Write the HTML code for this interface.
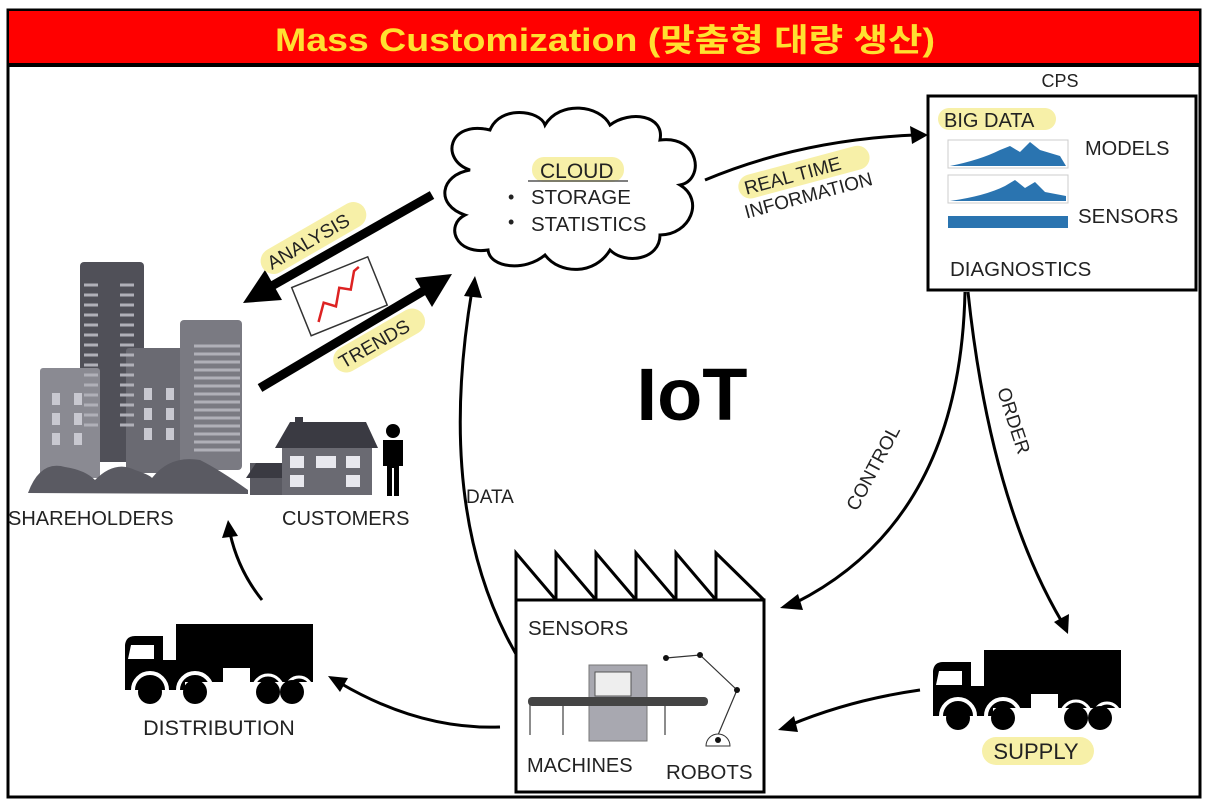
<!DOCTYPE html>
<html><head><meta charset="utf-8"><style>
html,body{margin:0;padding:0;background:#fff;}
svg{display:block;font-family:"Liberation Sans","Noto Sans CJK KR",sans-serif;}
</style></head><body>
<svg width="1207" height="802" viewBox="0 0 1207 802" xmlns="http://www.w3.org/2000/svg">
<defs>
<g id="truck">
<rect x="176" y="624" width="137" height="44" fill="#000"/>
<path d="M125,645 Q126,636 135,636 L163,636 L163,670 L176,670 L176,678 L125,690 Z" fill="#000"/>
<rect x="125" y="660" width="60" height="30" fill="#000"/>
<rect x="163" y="668" width="60" height="14" fill="#000"/>
<path d="M131,645 L154,645 L154,659 L128,659 Z" fill="#fff"/>
<path d="M133,690 a17,17 0 0 1 34,0" fill="none" stroke="#fff" stroke-width="4"/>
<path d="M178,690 a17,17 0 0 1 34,0" fill="none" stroke="#fff" stroke-width="4"/>
<path d="M250,682 L313,682 L313,668 L250,668 Z" fill="#000"/>
<path d="M253,690 a15,15 0 0 1 30,0 M286,690 a13,13 0 0 1 26,0" fill="none" stroke="#fff" stroke-width="3"/>
<circle cx="150" cy="692" r="12" fill="#000"/>
<circle cx="195" cy="692" r="12" fill="#000"/>
<circle cx="268" cy="692" r="12" fill="#000"/>
<circle cx="292" cy="692" r="12" fill="#000"/>
</g>
</defs>

<!-- frame -->
<rect x="8" y="10" width="1192" height="787" fill="#fff" stroke="#000" stroke-width="3"/>
<rect x="9" y="11" width="1190" height="54" fill="#f00"/>
<line x1="8" y1="65" x2="1200" y2="65" stroke="#000" stroke-width="4"/>
<text x="275" y="51" font-size="32" font-weight="bold" fill="#ffe030" textLength="660" lengthAdjust="spacingAndGlyphs">Mass Customization (맞춤형 대량 생산)</text>

<!-- CPS -->
<text x="1060" y="87" text-anchor="middle" font-size="18" fill="#222">CPS</text>
<rect x="928" y="96" width="268" height="194" fill="#fff" stroke="#000" stroke-width="3"/>
<rect x="938" y="108" width="118" height="22" rx="11" fill="#f7f0a8"/>
<text x="944" y="127" font-size="20" fill="#222">BIG DATA</text>
<g fill="#2a74b0">
<rect x="948" y="140" width="120" height="28" fill="none" stroke="#ccc"/>
<path d="M950,166 Q980,160 1000,150 L1010,146 1020,152 1030,142 1040,150 1060,156 1066,166 Z"/>
<rect x="948" y="175" width="120" height="28" fill="none" stroke="#ccc"/>
<path d="M950,201 Q985,196 1005,186 L1015,180 1025,188 1035,182 1045,192 1066,196 1066,201 Z"/>
<rect x="948" y="216" width="120" height="12"/>
</g>
<text x="1085" y="155" font-size="20" fill="#222">MODELS</text>
<text x="1078" y="223" font-size="20.5" fill="#222">SENSORS</text>
<text x="950" y="276" font-size="20.5" fill="#222">DIAGNOSTICS</text>

<!-- cloud -->
<path d="M470,170 C440,160 448,120 490,130 C500,105 540,110 545,125 C560,100 600,105 610,125 C630,110 665,115 660,140 C700,135 705,180 680,185 C705,200 690,235 660,235 C660,260 625,265 610,250 C595,275 560,275 545,255 C525,272 490,268 488,250 C455,255 445,225 465,215 C435,205 440,175 470,170 Z" fill="#fff" stroke="#000" stroke-width="3"/>
<rect x="532" y="157" width="92" height="25" rx="12" fill="#f7f0a8"/>
<text x="540" y="178" font-size="21" fill="#222">CLOUD</text>
<line x1="528" y1="181" x2="628" y2="181" stroke="#555" stroke-width="1.5"/>
<text x="508" y="203" font-size="18" fill="#222">•</text>
<text x="531" y="204" font-size="20.5" fill="#222">STORAGE</text>
<text x="508" y="228" font-size="18" fill="#222">•</text>
<text x="531" y="231" font-size="20.5" fill="#222">STATISTICS</text>

<!-- real time arrow -->
<path d="M705,180 Q800,140 915,135" fill="none" stroke="#000" stroke-width="3"/>
<polygon points="928,135 910,126 912,144" fill="#000"/>
<g transform="rotate(-15 810 185)">
<rect x="740" y="159" width="135" height="24" rx="12" fill="#f7f0a8"/>
<text x="746" y="178" font-size="19" fill="#222">REAL TIME</text>
<text x="740" y="201" font-size="19" fill="#222">INFORMATION</text>
</g>

<!-- analysis / trends arrows -->
<line x1="432" y1="195" x2="270" y2="287" stroke="#000" stroke-width="9"/>
<polygon points="243,303 265,270 282,300" fill="#000"/>
<line x1="260" y1="388" x2="425" y2="290" stroke="#000" stroke-width="9"/>
<polygon points="452,274 415,278 432,307" fill="#000"/>
<g transform="rotate(-30 310 240)">
<rect x="255" y="227" width="118" height="26" rx="13" fill="#f7f0a8"/>
<text x="262" y="247" font-size="19" fill="#222">ANALYSIS</text>
</g>
<g transform="rotate(-30 380 340)">
<rect x="328" y="327" width="102" height="26" rx="13" fill="#f7f0a8"/>
<text x="334" y="347" font-size="19" fill="#222">TRENDS</text>
</g>
<g transform="rotate(-22 340 295)">
<rect x="298" y="270" width="82" height="52" fill="#fff" stroke="#333" stroke-width="1.5"/>
<polyline points="310,312 322,296 332,304 342,288 352,294 362,278 368,276" fill="none" stroke="#d22" stroke-width="2.5"/>
</g>

<!-- buildings -->
<g>
<rect x="80" y="262" width="64" height="200" rx="4" fill="#505058"/>
<rect x="40" y="368" width="60" height="110" rx="3" fill="#8a8a92"/>
<rect x="126" y="348" width="70" height="125" rx="3" fill="#6a6a72"/>
<rect x="180" y="320" width="62" height="150" rx="4" fill="#7a7a82"/>
<g fill="#c8c8d0">
<rect x="52" y="393" width="8" height="12"/><rect x="74" y="393" width="8" height="12"/>
<rect x="52" y="413" width="8" height="12"/><rect x="74" y="413" width="8" height="12"/>
<rect x="52" y="433" width="8" height="12"/><rect x="74" y="433" width="8" height="12"/>
<rect x="144" y="388" width="8" height="12"/><rect x="166" y="388" width="8" height="12"/>
<rect x="144" y="408" width="8" height="12"/><rect x="166" y="408" width="8" height="12"/>
<rect x="144" y="428" width="8" height="12"/><rect x="166" y="428" width="8" height="12"/>
</g>
<g stroke="#b0b0b8" stroke-width="3">
<path d="M84,285h14M84,295h14M84,305h14M84,315h14M84,325h14M84,335h14M84,345h14M84,355h14M84,365h14M84,375h14M84,385h14M84,395h14M84,405h14M84,415h14M84,425h14M120,285h14M120,295h14M120,305h14M120,315h14M120,325h14M120,335h14M120,345h14M120,355h14M120,365h14M120,375h14M120,385h14M120,395h14M120,405h14M120,415h14M120,425h14"/>
<path d="M194,346h46M194,354h46M194,362h46M194,370h46M194,378h46M194,386h46M194,394h46M194,402h46M194,410h46M194,418h46M194,426h46M194,434h46M194,442h46M194,450h46"/>
</g>
<path d="M28,493 Q40,460 65,467 Q85,470 95,480 Q115,460 135,470 Q150,475 152,478 Q170,455 200,460 Q220,470 248,490 L248,494 Z" fill="#5a5a62"/>
<rect x="250" y="463" width="32" height="32" fill="#5a5a62"/>
<polygon points="246,478 256,463 283,463 283,478" fill="#3a3a42"/>
<rect x="282" y="448" width="90" height="47" fill="#6a6a72"/>
<polygon points="275,448 290,422 366,422 378,448" fill="#3a3a42"/>
<rect x="295" y="417" width="8" height="10" fill="#3a3a42"/>
<g fill="#e8e8ee">
<rect x="290" y="456" width="14" height="12"/><rect x="316" y="456" width="20" height="12"/><rect x="346" y="456" width="14" height="12"/>
<rect x="290" y="475" width="14" height="12"/><rect x="346" y="475" width="14" height="12"/>
</g>
<circle cx="393" cy="431" r="7" fill="#000"/>
<path d="M383,440 h20 v26 h-4 v30 h-5 v-28 h-2 v28 h-5 v-30 h-4 Z" fill="#000"/>
</g>
<text x="8" y="525" font-size="20" fill="#222">SHAREHOLDERS</text>
<text x="282" y="525" font-size="20" fill="#222">CUSTOMERS</text>

<text x="692" y="420" text-anchor="middle" font-size="74" font-weight="bold" fill="#000">IoT</text>

<!-- data arrow -->
<path d="M538,688 Q430,540 472,290" fill="none" stroke="#000" stroke-width="3"/>
<polygon points="475,276 464,296 482,298" fill="#000"/>
<text x="466" y="503" font-size="19" fill="#222">DATA</text>

<!-- control / order -->
<path d="M965,292 Q960,520 795,603" fill="none" stroke="#000" stroke-width="3"/>
<polygon points="780,608 798,594 803,610" fill="#000"/>
<text transform="translate(857,512) rotate(-62)" font-size="19" fill="#222">CONTROL</text>
<path d="M968,292 Q990,500 1062,622" fill="none" stroke="#000" stroke-width="3"/>
<polygon points="1068,634 1054,622 1069,614" fill="#000"/>
<text transform="translate(997,390) rotate(72)" font-size="19" fill="#222">ORDER</text>

<!-- factory -->
<path d="M516,600 V553 L556,600 V553 L596,600 V553 L636,600 V553 L676,600 V553 L716,600 V553 L764,600" fill="none" stroke="#000" stroke-width="3"/>
<rect x="516" y="600" width="248" height="192" fill="#fff" stroke="#000" stroke-width="3"/>
<text x="528" y="635" font-size="20.5" fill="#222">SENSORS</text>
<text x="527" y="772" font-size="20" fill="#222">MACHINES</text>
<text x="666" y="779" font-size="20.5" fill="#222">ROBOTS</text>
<g>
<line x1="530" y1="702" x2="530" y2="735" stroke="#666" stroke-width="1.5"/>
<line x1="563" y1="702" x2="563" y2="735" stroke="#666" stroke-width="1.5"/>
<line x1="665" y1="702" x2="665" y2="735" stroke="#666" stroke-width="1.5"/>
<rect x="589" y="665" width="58" height="76" fill="#a8a8b0" stroke="#777"/>
<rect x="595" y="672" width="36" height="24" fill="#eee" stroke="#555"/>
<rect x="528" y="697" width="180" height="9" rx="4" fill="#444"/>
<polyline points="666,658 700,655 737,690 718,735" fill="none" stroke="#333" stroke-width="1.2"/>
<circle cx="666" cy="658" r="3" fill="#111"/><circle cx="700" cy="655" r="3" fill="#111"/><circle cx="737" cy="690" r="3" fill="#111"/>
<path d="M706,746 a12,12 0 0 1 24,0 Z" fill="#fff" stroke="#333"/>
<circle cx="718" cy="740" r="3" fill="#111"/>
</g>

<!-- trucks -->
<use href="#truck"/>
<use href="#truck" transform="translate(808,26)"/>
<text x="219" y="735" text-anchor="middle" font-size="21.5" fill="#222">DISTRIBUTION</text>
<rect x="982" y="737" width="112" height="28" rx="14" fill="#f7f0a8"/>
<text x="1036" y="759" text-anchor="middle" font-size="22" fill="#222">SUPPLY</text>

<!-- lower arrows -->
<path d="M920,690 Q850,700 790,725" fill="none" stroke="#000" stroke-width="3"/>
<polygon points="778,730 794,716 798,732" fill="#000"/>
<path d="M500,727 Q420,730 340,683" fill="none" stroke="#000" stroke-width="3"/>
<polygon points="328,676 348,678 340,692" fill="#000"/>
<path d="M262,600 Q238,570 230,533" fill="none" stroke="#000" stroke-width="3"/>
<polygon points="228,520 222,538 238,536" fill="#000"/>
</svg>
</body></html>
